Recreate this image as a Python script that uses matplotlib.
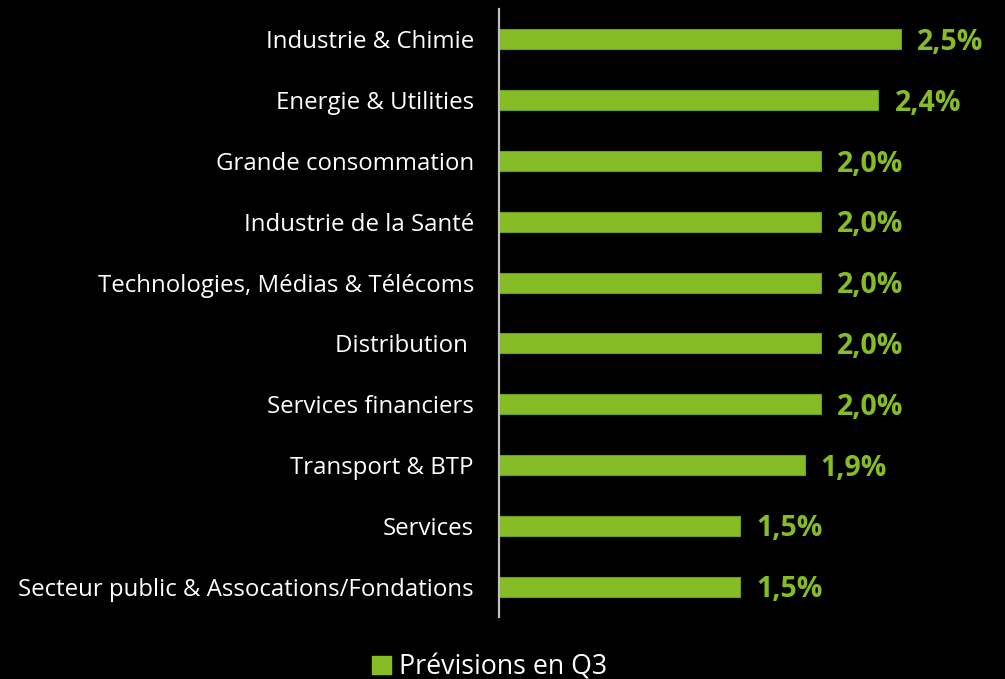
import matplotlib
matplotlib.use("Agg")
import matplotlib.pyplot as plt
from matplotlib.patches import Patch

plt.rcParams['font.family'] = ['Open Sans', 'DejaVu Sans']

# data
categories = [
    "Industrie & Chimie",
    "Energie & Utilities",
    "Grande consommation",
    "Industrie de la Santé",
    "Technologies, Médias & Télécoms",
    "Distribution ",
    "Services financiers",
    "Transport & BTP",
    "Services",
    "Secteur public & Assocations/Fondations",
]
values = [2.5, 2.36, 2.0, 2.0, 2.0, 2.0, 2.0, 1.9, 1.5, 1.5]
series_name = "Prévisions en Q3"

green = "#86BC25"
bg = "black"

fig = plt.figure(figsize=(10.05, 6.79), dpi=100, facecolor=bg)
ax = fig.add_axes([0.4965, 0.0913, 0.48, 0.8954], facecolor=bg)

y = list(range(len(categories)))
ax.barh(y, values, height=0.33, color=green, edgecolor="#6F9E1F", linewidth=0.8)

for yi, v in zip(y, values):
    txt = f"{v:.1f}".replace(".", ",") + "%"
    ax.text(v + 0.1, yi + 0.05, txt, color=green, fontsize=20.5, fontweight="bold",
            va="center", ha="left", clip_on=False)

ax.set_xlim(0, 3)
ax.set_ylim(9.5, -0.5)
ax.set_yticks(y)
ax.set_yticklabels(categories, color="white", fontsize=17.3)
ax.tick_params(axis="y", length=0, pad=18)
ax.set_xticks([])

for s in ["top", "right", "bottom"]:
    ax.spines[s].set_visible(False)
ax.spines["left"].set_color("#BFBFBF")
ax.spines["left"].set_linewidth(1.6)

handle = Patch(facecolor=green, edgecolor=green)
fig.legend([handle], [series_name], loc="center", bbox_to_anchor=(0.487, 0.017),
           frameon=False, fontsize=19.3, labelcolor="white",
           handlelength=0.7, handleheight=0.7, handletextpad=0.3)

fig.savefig("out.png", dpi=100, facecolor=bg)
